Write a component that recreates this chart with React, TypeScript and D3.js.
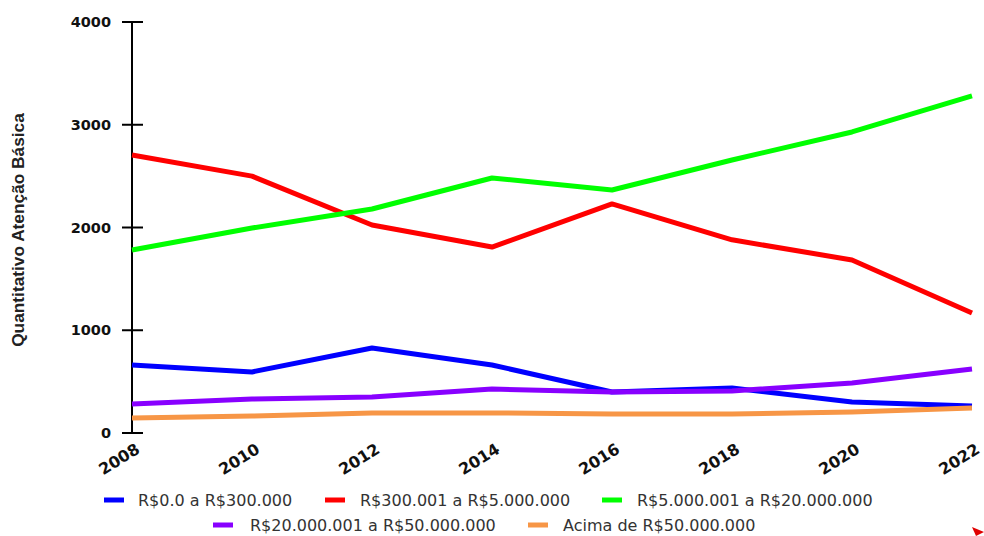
import React from "react";
import * as d3 from "d3";

const years = [2008, 2010, 2012, 2014, 2016, 2018, 2020, 2022];
const seriesNames = [
  "R$0.0 a R$300.000",
  "R$300.001 a R$5.000.000",
  "R$5.000.001 a R$20.000.000",
  "R$20.000.001 a R$50.000.000",
  "Acima de R$50.000.000",
];
const colors = ["#0000ff", "#ff0000", "#00ff00", "#8800ff", "#f79646"];
const blueValues = [662, 594, 827, 662, 399, 438, 302, 263];
const redValues = [2706, 2500, 2024, 1810, 2229, 1880, 1684, 1168];
const greenValues = [1781, 1995, 2180, 2482, 2365, 2657, 2930, 3280];
const purpleValues = [282, 331, 350, 428, 399, 409, 487, 623];
const orangeValues = [146, 165, 195, 195, 185, 185, 204, 243];
const allValues = [blueValues, redValues, greenValues, purpleValues, orangeValues];
const yTicks = [0, 1000, 2000, 3000, 4000];

export default function App() {
  const W = 984;
  const H = 536;
  const x = d3.scaleLinear().domain([2008, 2022]).range([132, 972]);
  const y = d3.scaleLinear().domain([0, 4000]).range([433, 22]);
  const line = d3
    .line<number>()
    .x((_, i) => x(years[i]))
    .y((d) => y(d))
    .curve(d3.curveLinear);

  // legend layout: [row, swatchX, textX]
  const legendPos = [
    [500, 104, 138],
    [500, 325, 360],
    [500, 602, 637],
    [525, 213, 250],
    [525, 528, 563],
  ];

  return (
    <svg
      width={W}
      height={H}
      style={{ position: "absolute", left: 0, top: 0, background: "#fff" }}
    >
      {/* y axis */}
      <line x1={132} x2={132} y1={y(4000)} y2={y(0)} stroke="#000" strokeWidth={2} />
      {yTicks.map((t) => (
        <g key={t}>
          <line x1={122} x2={143} y1={y(t)} y2={y(t)} stroke="#000" strokeWidth={2} />
          <text
            x={111}
            y={y(t)}
            dy="0.35em"
            textAnchor="end"
            fontFamily="DejaVu Sans, sans-serif"
            fontWeight="bold"
            fontSize={14.5}
            fill="#111"
          >
            {t}
          </text>
        </g>
      ))}
      <text
        transform={`translate(24,${230}) rotate(-90)`}
        textAnchor="middle"
        fontFamily="Liberation Sans, Arial, sans-serif"
        fontWeight="bold"
        fontSize={17.3}
        fill="#222"
      >
        Quantitativo Atenção Básica
      </text>

      {/* x tick labels */}
      {years.map((yr) => (
        <text
          key={yr}
          transform={`translate(${x(yr) + 9},${452}) rotate(-32)`}
          textAnchor="end"
          fontFamily="DejaVu Sans, sans-serif"
          fontWeight="bold"
          fontSize={16}
          fill="#111"
        >
          {yr}
        </text>
      ))}

      {/* lines */}
      {allValues.map((vals, i) => (
        <path
          key={i}
          d={line(vals) || ""}
          fill="none"
          stroke={colors[i]}
          strokeWidth={5}
          strokeLinejoin="round"
        />
      ))}

      {/* legend */}
      {seriesNames.map((name, i) => (
        <g key={name}>
          <line
            x1={legendPos[i][1]}
            x2={legendPos[i][1] + 20}
            y1={legendPos[i][0]}
            y2={legendPos[i][0]}
            stroke={colors[i]}
            strokeWidth={5}
          />
          <text
            x={legendPos[i][2]}
            y={legendPos[i][0]}
            dy="0.35em"
            fontFamily="DejaVu Sans, sans-serif"
            fontSize={16}
            fill="#333"
          >
            {name}
          </text>
        </g>
      ))}

      {/* small decorative marker bottom-right */}
      <path d="M972,527 L984,532 L976,536 Z" fill="#e00000" />
    </svg>
  );
}
